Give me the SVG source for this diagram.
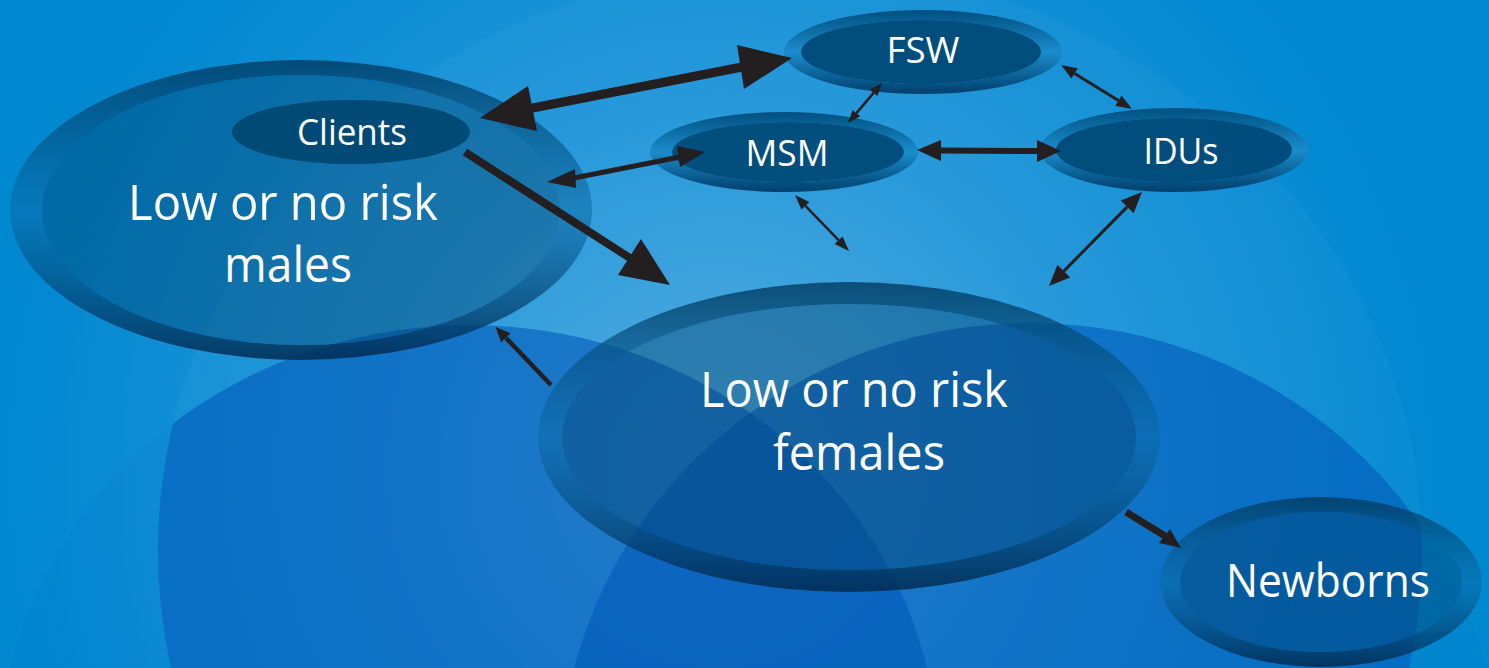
<svg xmlns="http://www.w3.org/2000/svg" width="1489" height="668" viewBox="0 0 1489 668">
<defs>
<radialGradient id="bg" gradientUnits="userSpaceOnUse" cx="720" cy="470" r="720">
<stop offset="0" stop-color="#50abe0"/>
<stop offset="0.5" stop-color="#2196d9"/>
<stop offset="1" stop-color="#0088d1"/>
</radialGradient>
<linearGradient id="ringBig" x1="0" y1="0" x2="0" y2="1">
<stop offset="0" stop-color="#003a60" stop-opacity="0.8"/>
<stop offset="0.5" stop-color="#0a6aa5" stop-opacity="0.5"/>
<stop offset="1" stop-color="#002a50" stop-opacity="0.85"/>
</linearGradient>
<linearGradient id="ringSmall" x1="0" y1="0" x2="0" y2="1">
<stop offset="0" stop-color="#00507f"/>
<stop offset="0.5" stop-color="#1a8ccc"/>
<stop offset="1" stop-color="#003f6c"/>
</linearGradient>
<clipPath id="halo"><ellipse cx="790" cy="550" rx="632" ry="584"/></clipPath>
</defs>
<style>
.big-in{fill:#003a60;fill-opacity:0.38}
.small-in{fill:#004a78;fill-opacity:0.95}
.ring-big{fill:url(#ringBig);fill-rule:evenodd}
.ring-small{fill:url(#ringSmall);fill-rule:evenodd}
.lbl{font-family:"Open Sans","Liberation Sans",sans-serif;fill:#ffffff;text-anchor:middle}
.ln{stroke:#231f20;fill:none}
.hd{fill:#231f20}
.blob{fill:#0058b8}
</style>
<g id="background">
<rect x="0" y="0" width="1489" height="668" fill="url(#bg)"/>
<ellipse cx="790" cy="550" rx="632" ry="584" fill="#ffffff" fill-opacity="0.03"/>
<ellipse class="blob" cx="469" cy="767" rx="470" ry="442" fill-opacity="0.06"/>
<ellipse class="blob" cx="1030" cy="780" rx="470" ry="457" fill-opacity="0.06"/>
<g clip-path="url(#halo)">
<ellipse class="blob" cx="469" cy="767" rx="470" ry="442" fill-opacity="0.55"/>
<ellipse class="blob" cx="1030" cy="780" rx="470" ry="457" fill-opacity="0.55"/>
</g>
</g>
<g id="males">
<path class="ring-big" d="M10,210 a291,150 0 1,0 582,0 a291,150 0 1,0 -582,0 Z M42,210 a259,135 0 1,1 518,0 a259,135 0 1,1 -518,0 Z"/>
<ellipse class="big-in" cx="301" cy="210" rx="259" ry="135"/>
<text class="lbl" x="283" y="220" font-size="49" textLength="310" lengthAdjust="spacingAndGlyphs">Low or no risk</text>
<text class="lbl" x="288" y="282" font-size="49" textLength="128" lengthAdjust="spacingAndGlyphs">males</text>
</g>
<g id="clients">
<ellipse cx="351" cy="132" rx="119" ry="32" fill="#004a75"/>
<text class="lbl" x="352" y="145" font-size="36" textLength="110" lengthAdjust="spacingAndGlyphs">Clients</text>
</g>
<g id="females">
<path class="ring-big" d="M538,437 a311,155 0 1,0 622,0 a311,155 0 1,0 -622,0 Z M562,437 a287,133 0 1,1 574,0 a287,133 0 1,1 -574,0 Z"/>
<ellipse class="big-in" cx="849" cy="437" rx="287" ry="133"/>
<text class="lbl" x="854" y="407" font-size="49" textLength="308" lengthAdjust="spacingAndGlyphs">Low or no risk</text>
<text class="lbl" x="859" y="470" font-size="49" textLength="172" lengthAdjust="spacingAndGlyphs">females</text>
</g>
<g id="newborns">
<path class="ring-big" d="M1160,582 a161,85 0 1,0 322,0 a161,85 0 1,0 -322,0 Z M1180,582 a141,70 0 1,1 282,0 a141,70 0 1,1 -282,0 Z"/>
<ellipse class="big-in" cx="1321" cy="582" rx="141" ry="70"/>
<text class="lbl" x="1328" y="597" font-size="45" textLength="204" lengthAdjust="spacingAndGlyphs">Newborns</text>
</g>
<g id="fsw">
<path class="ring-small" d="M784,52 a139,42 0 1,0 278,0 a139,42 0 1,0 -278,0 Z M801,52 a120,32 0 1,1 240,0 a120,32 0 1,1 -240,0 Z"/>
<ellipse class="small-in" cx="921" cy="52" rx="120" ry="32"/>
<text class="lbl" x="923" y="63" font-size="36" textLength="73" lengthAdjust="spacingAndGlyphs">FSW</text>
</g>
<g id="msm">
<path class="ring-small" d="M650,152 a134,40 0 1,0 268,0 a134,40 0 1,0 -268,0 Z M672,152 a116,30 0 1,1 232,0 a116,30 0 1,1 -232,0 Z"/>
<ellipse class="small-in" cx="788" cy="152" rx="116" ry="30" fill-opacity="0.85"/>
<text class="lbl" x="787" y="166" font-size="36" textLength="83" lengthAdjust="spacingAndGlyphs">MSM</text>
</g>
<g id="idus">
<path class="ring-small" d="M1040,150 a134,42 0 1,0 268,0 a134,42 0 1,0 -268,0 Z M1056,150 a118,32 0 1,1 236,0 a118,32 0 1,1 -236,0 Z"/>
<ellipse class="small-in" cx="1174" cy="150" rx="118" ry="32"/>
<text class="lbl" x="1181" y="164" font-size="36" textLength="75" lengthAdjust="spacingAndGlyphs">IDUs</text>
</g>
<g id="connectors">
<line class="ln" x1="530" y1="108.5" x2="742" y2="67" stroke-width="9"/>
<polygon class="hd" points="792,58 737,45 744,89"/>
<polygon class="hd" points="480,118 528,86 537,131"/>
<line class="ln" x1="465" y1="152" x2="630" y2="258" stroke-width="8"/>
<polygon class="hd" points="670,285 618,275 641,239"/>
<line class="ln" x1="574" y1="178" x2="680" y2="157" stroke-width="5"/>
<polygon class="hd" points="547,182 575,169 576,188"/>
<polygon class="hd" points="705,152 677,146 680,167"/>
<line class="ln" x1="940" y1="150.5" x2="1038" y2="151" stroke-width="6"/>
<polygon class="hd" points="917,150 941,140 941,161"/>
<polygon class="hd" points="1061,151 1037,140 1037,162"/>
<line class="ln" x1="873.6" y1="92.9" x2="856.4" y2="113.1" stroke-width="2.5"/>
<polygon class="hd" points="882,83 877.4,96.1 869.8,89.7"/>
<polygon class="hd" points="848,123 860.2,116.3 852.6,109.9"/>
<line class="ln" x1="1074.6" y1="73.4" x2="1118.4" y2="100.6" stroke-width="3"/>
<polygon class="hd" points="1061,65 1071.4,78.5 1077.8,68.3"/>
<polygon class="hd" points="1132,109 1115.2,105.7 1121.6,95.5"/>
<line class="ln" x1="805.4" y1="205.8" x2="838.6" y2="240.2" stroke-width="2.5"/>
<polygon class="hd" points="795,195 801.4,209.6 809.4,202"/>
<polygon class="hd" points="849,251 834.6,244 842.6,236.4"/>
<line class="ln" x1="1127.2" y1="206.9" x2="1063.8" y2="271.1" stroke-width="3"/>
<polygon class="hd" points="1142,192 1133.6,213.2 1120.8,200.6"/>
<polygon class="hd" points="1049,286 1070.2,277.4 1057.4,264.8"/>
<line class="ln" x1="551" y1="385" x2="506" y2="338" stroke-width="4.5"/>
<polygon class="hd" points="495.5,327 510.6,333.3 501.2,342.3"/>
<line class="ln" x1="1126" y1="512" x2="1165" y2="536" stroke-width="7"/>
<polygon class="hd" points="1181,548 1159,543 1170,529"/>
</g>
</svg>
